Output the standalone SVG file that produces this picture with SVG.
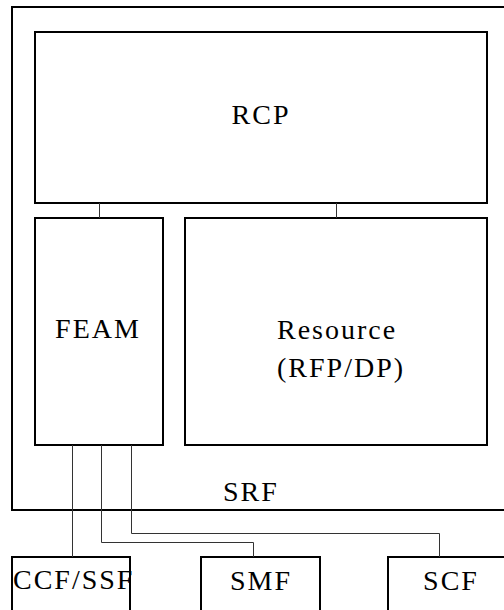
<svg xmlns="http://www.w3.org/2000/svg" width="504" height="610" viewBox="0 0 504 610">
<style>
.box{fill:none;stroke:#000;stroke-width:2}
.lbl{font-family:"Liberation Serif","Times New Roman",serif;font-size:28px;fill:#000;letter-spacing:2px}
.con{fill:none;stroke:#333;stroke-width:1}
</style>
<rect width="504" height="610" fill="#fff"/>
<g id="SRF">
<rect class="box" x="12" y="7" width="500" height="503"/>
<text class="lbl" x="223" y="501">SRF</text>
</g>
<g id="RCP">
<rect class="box" x="35" y="32" width="452" height="171"/>
<text class="lbl" x="261" y="124" text-anchor="middle">RCP</text>
</g>
<g id="FEAM">
<rect class="box" x="35" y="218" width="128" height="227"/>
<text class="lbl" x="98" y="338" text-anchor="middle">FEAM</text>
</g>
<g id="Resource">
<rect class="box" x="185" y="218" width="302" height="227"/>
<text class="lbl" x="277" y="339">Resource</text>
<text class="lbl" x="277" y="377">(RFP/DP)</text>
</g>
<g id="CCFSSF">
<rect class="box" x="12" y="557" width="118" height="60"/>
<text class="lbl" x="13" y="589">CCF/SSF</text>
</g>
<g id="SMF">
<rect class="box" x="201" y="557" width="119" height="60"/>
<text class="lbl" x="261" y="590" text-anchor="middle">SMF</text>
</g>
<g id="SCF">
<rect class="box" x="388" y="557" width="130" height="60"/>
<text class="lbl" x="451" y="590" text-anchor="middle">SCF</text>
</g>
<g id="connectors">
<path class="con" d="M99.5,203 V218"/>
<path class="con" d="M336.5,203 V218"/>
<path class="con" d="M72.5,445 V557"/>
<path class="con" d="M101.5,445 V542.5 H253.5 V557"/>
<path class="con" d="M131.5,445 V533.5 H439.5 V557"/>
</g>
</svg>
